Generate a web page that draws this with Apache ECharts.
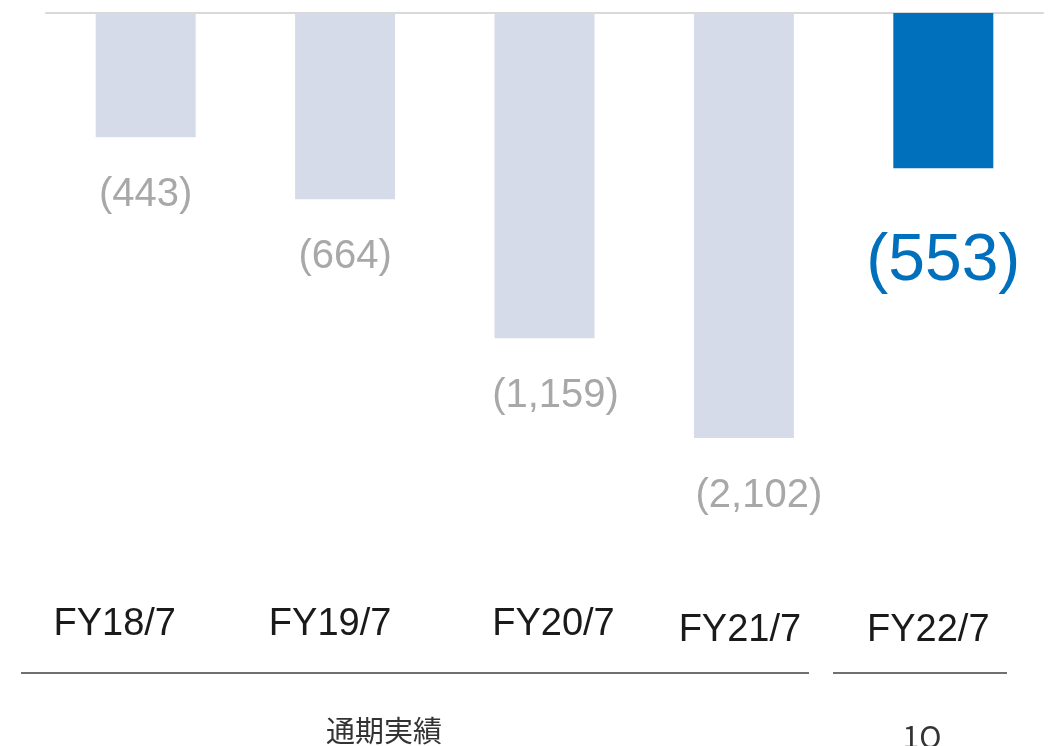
<!DOCTYPE html>
<html>
<head>
<meta charset="utf-8">
<script src="https://cdn.jsdelivr.net/npm/echarts@6/dist/echarts.min.js"></script>
<style>
  html, body { margin: 0; padding: 0; background: #fff; }
  #chart { width: 1052px; height: 746px; }
</style>
</head>
<body>
<div id="chart"></div>
<script>
// 営業損益（百万円）
var categories = ["FY18/7", "FY19/7", "FY20/7", "FY21/7", "FY22/7"];
var values = [-443, -664, -1159, -2102, -553];
var groupLabels = ["通期実績", "1Q"];

// label nudges so the category names sit like the source slide
var labelShift = [-31, -15, 9, -4, -15];
var valueShift = [0, 0, 11, 15, 0];

var myChart = echarts.init(document.getElementById("chart"));
var option;

function fmt(v) {
  return "(" + Math.abs(v).toLocaleString("en-US") + ")";
}

var seriesData = values.map(function (v, i) {
  var last = i === values.length - 1;
  return {
    value: v,
    itemStyle: { color: last ? "#0070bd" : "#d6dbe9" },
    label: last
      ? { fontSize: 66, lineHeight: 66, color: "#0070bd", distance: 61 }
      : { fontSize: 40, lineHeight: 40, color: "#a8a8a8", distance: 38, offset: [valueShift[i], 0] },
  };
});

var rich = {};
labelShift.forEach(function (s, i) {
  rich["c" + i] = {
    fontSize: 38,
    fontFamily: "Liberation Sans",
    color: "#1a1a1a",
    padding: s < 0 ? [i > 2 ? 6 : 0, -2 * s, 0, 0] : [0, 0, 0, 2 * s],
  };
});

option = {
  animation: false,
  grid: { left: 46, right: 9, top: 13, bottom: 308 },
  xAxis: [
    {
      type: "category",
      data: categories,
      position: "top",
      axisLine: { show: true, onZero: false, lineStyle: { color: "#d9d9d9", width: 2 } },
      axisTick: { show: false },
      axisLabel: { show: false },
    },
    {
      type: "category",
      data: categories,
      position: "bottom",
      axisLine: { show: false },
      axisTick: { show: false },
      axisLabel: {
        margin: 168,
        formatter: function (v, i) {
          return "{c" + i + "|" + v + "}";
        },
        rich: rich,
      },
    },
  ],
  yAxis: {
    type: "value",
    min: -1515,
    max: 0,
    show: false,
    splitLine: { show: false },
  },
  series: [
    {
      type: "bar",
      data: seriesData,
      barWidth: 100,
      clip: true,
      label: {
        show: true,
        position: "bottom",
        fontFamily: "Liberation Sans",
        formatter: function (p) {
          return fmt(p.value);
        },
      },
    },
  ],
  graphic: [
    {
      type: "line",
      shape: { x1: 21, y1: 673, x2: 809, y2: 673 },
      style: { stroke: "#404040", lineWidth: 1.5 },
    },
    {
      type: "line",
      shape: { x1: 833, y1: 673, x2: 1007, y2: 673 },
      style: { stroke: "#404040", lineWidth: 1.5 },
    },
    {
      type: "text",
      x: 384,
      y: 731,
      style: {
        text: groupLabels[0],
        font: '29px "Noto Sans CJK JP"',
        fill: "#333",
        align: "center",
        verticalAlign: "middle",
      },
    },
    {
      type: "text",
      x: 922,
      y: 737,
      style: {
        text: groupLabels[1],
        font: '30px "Noto Sans CJK JP"',
        fill: "#333",
        align: "center",
        verticalAlign: "middle",
      },
    },
  ],
};

option && myChart.setOption(option);
</script>
</body>
</html>
